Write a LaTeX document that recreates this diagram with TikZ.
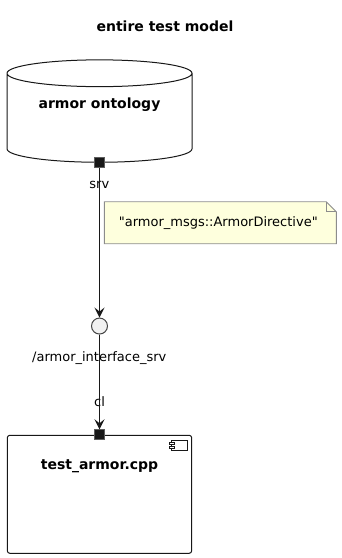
\documentclass[tikz,border=0pt]{standalone}
\usepackage{fontspec}
\setmainfont{DejaVu Sans}[Ligatures=TeXOff]
\usetikzlibrary{shapes.geometric, arrows.meta, positioning, backgrounds, calc}
\usepackage{xcolor}
\definecolor{umlLine}{HTML}{181818}
\definecolor{umlNote}{HTML}{FEFFDD}
\definecolor{umlNoteLine}{HTML}{8C8C8C}
\definecolor{umlIface}{HTML}{F1F1F1}
\tikzset{
    >={Stealth[length=10pt, width=10pt, inset=4pt]},
    % Shapes
    db/.style={cylinder, draw=umlLine, fill=white, shape border rotate=90, aspect=0.22,
               minimum width=185pt, minimum height=102.4pt, inner sep=0pt,
               font=\fontsize{14}{16}\selectfont\bfseries, text height=10pt, text depth=30pt},
    comp/.style={rectangle, draw=umlLine, fill=white, rounded corners=2.5pt,
                 minimum width=184.4pt, minimum height=118pt, inner sep=0pt,
                 font=\fontsize{14}{16}\selectfont\bfseries, text height=10pt, text depth=60pt},
    port/.style={rectangle, draw=umlLine!70, fill=umlLine, minimum size=10pt, inner sep=0pt},
    iface/.style={circle, draw=umlLine!80, fill=umlIface, minimum size=16pt, inner sep=0pt},
    note/.style={rectangle, text width=203pt, inner sep=14pt, minimum height=41pt, align=left,
                 font=\fontsize{13}{15}\selectfont, text height=9.5pt, text depth=3pt},
    % Flow & Labels
    flow/.style={->, line width=1pt, umlLine},
    lbl/.style={anchor=base, inner sep=0pt, font=\fontsize{13}{15}\selectfont},
    ttl/.style={anchor=base, inner sep=0pt, font=\fontsize{14}{16}\selectfont\bfseries}
}
\begin{document}
\begin{tikzpicture}[x=1pt, y=-1pt, line width=1pt]
\useasboundingbox (0,0) rectangle (342,558);

\node[ttl] (title) at (165,31) {entire test model};

\node[db] (ont) at (99.5,118) {armor ontology};
\node[port] (srvport) at (ont.south) {};
\node[lbl] (srvlbl) at (99.3,188) {srv};

\node[iface, below=149.3pt of srvport] (iface) {};
\node[lbl] (ifacelbl) at (99.3,361.5) {/armor\_interface\_srv};

\node[comp] (test) at (99.5,494.3) {test\_armor.cpp};
\node[port] (clport) at (test.north) {};
\node[lbl] (cllbl) at (99.5,406) {cl};

% component icon
\draw[umlLine, line width=0.8pt, fill=white] ([shift={(-20.7,5.4)}]test.north east) rectangle ++(15.7,10);
\draw[umlLine, line width=0.8pt, fill=white] ([shift={(-23.2,7.6)}]test.north east) rectangle ++(5,2.4);
\draw[umlLine, line width=0.8pt, fill=white] ([shift={(-23.2,11.2)}]test.north east) rectangle ++(5,2.4);

\node[note] (msg) at (220.35,222.8) {"armor\_msgs::ArmorDirective"};
\begin{scope}[on background layer]
\filldraw[draw=umlNoteLine, fill=umlNote, line width=0.8pt]
    (msg.north west) -- ([xshift=-10pt]msg.north east) -- ([yshift=-10pt]msg.north east)
    -- (msg.south east) -- (msg.south west) -- cycle;
\end{scope}
\draw[umlNoteLine, line width=0.8pt] ([xshift=-10pt]msg.north east) |- ([yshift=-10pt]msg.north east);

\draw[flow] (srvport) -- (iface);
\draw[flow] (iface) -- (clport);

\end{tikzpicture}
\end{document}
